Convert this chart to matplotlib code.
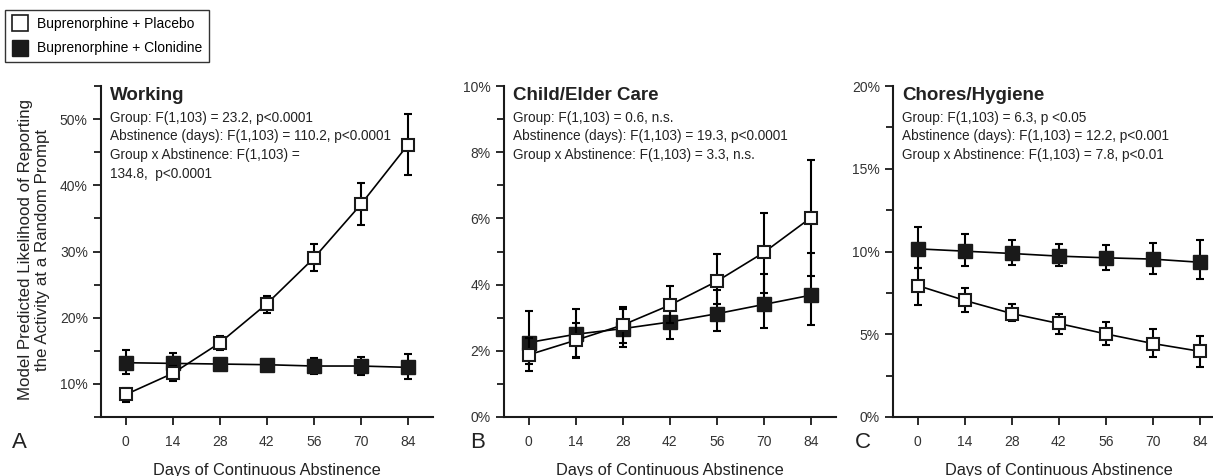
import matplotlib
matplotlib.use("Agg")
import matplotlib.pyplot as plt
from matplotlib.lines import Line2D
from matplotlib.ticker import MultipleLocator, FuncFormatter

plt.rcParams['font.family'] = ['Liberation Sans', 'DejaVu Sans']

days = [0, 14, 28, 42, 56, 70, 84]

# Working (percent)
work_plac = [8.4, 11.6, 16.2, 22.1, 29.0, 37.1, 46.1]
work_plac_lo = [7.2, 10.5, 15.1, 20.7, 27.0, 34.0, 41.6]
work_plac_hi = [9.4, 12.7, 17.2, 23.3, 31.1, 40.3, 50.8]
work_clon = [13.2, 13.1, 13.0, 12.9, 12.7, 12.7, 12.5]
work_clon_lo = [11.5, 11.6, 12.3, 12.3, 11.5, 11.4, 10.8]
work_clon_hi = [15.1, 14.6, 13.6, 13.5, 13.9, 14.1, 14.5]

# Child/Elder Care (percent)
care_plac = [1.88, 2.32, 2.78, 3.38, 4.10, 4.97, 6.02]
care_plac_lo = [1.38, 1.78, 2.25, 2.85, 3.40, 3.75, 4.25]
care_plac_hi = [2.40, 2.85, 3.33, 3.97, 4.91, 6.17, 7.76]
care_clon = [2.25, 2.50, 2.67, 2.87, 3.12, 3.40, 3.68]
care_clon_lo = [1.60, 1.82, 2.12, 2.37, 2.59, 2.69, 2.77]
care_clon_hi = [3.20, 3.25, 3.25, 3.40, 3.85, 4.31, 4.94]

# Chores/Hygiene (percent)
chore_plac = [7.94, 7.04, 6.25, 5.65, 5.02, 4.44, 3.97]
chore_plac_lo = [6.79, 6.35, 5.79, 5.04, 4.33, 3.63, 3.02]
chore_plac_hi = [9.01, 7.82, 6.83, 6.21, 5.73, 5.32, 4.90]
chore_clon = [10.16, 10.02, 9.88, 9.72, 9.62, 9.54, 9.35]
chore_clon_lo = [9.01, 9.13, 9.19, 9.13, 8.91, 8.65, 8.31]
chore_clon_hi = [11.49, 11.07, 10.67, 10.46, 10.38, 10.50, 10.67]

titles = ["Working", "Child/Elder Care", "Chores/Hygiene"]
stats = [
    "Group: F(1,103) = 23.2, p<0.0001\nAbstinence (days): F(1,103) = 110.2, p<0.0001\nGroup x Abstinence: F(1,103) =\n134.8,  p<0.0001",
    "Group: F(1,103) = 0.6, n.s.\nAbstinence (days): F(1,103) = 19.3, p<0.0001\nGroup x Abstinence: F(1,103) = 3.3, n.s.",
    "Group: F(1,103) = 6.3, p <0.05\nAbstinence (days): F(1,103) = 12.2, p<0.001\nGroup x Abstinence: F(1,103) = 7.8, p<0.01",
]
letters = ["A", "B", "C"]

panels = [
    (work_plac, work_plac_lo, work_plac_hi, work_clon, work_clon_lo, work_clon_hi),
    (care_plac, care_plac_lo, care_plac_hi, care_clon, care_clon_lo, care_clon_hi),
    (chore_plac, chore_plac_lo, chore_plac_hi, chore_clon, chore_clon_lo, chore_clon_hi),
]
ylims = [(5, 55), (0, 10), (0, 20)]
majors = [10, 2, 5]
minors = [5, 1, 2.5]

W, H = 1213, 476
fig = plt.figure(figsize=(W / 100, H / 100), dpi=100)

lefts = [101, 504, 893]
ax_w = 332
ax_top, ax_bot = 86, 417
letter_x = [12, 470, 855]

for i in range(3):
    ax = fig.add_axes([lefts[i] / W, 1 - ax_bot / H, ax_w / W, (ax_bot - ax_top) / H])
    p, plo, phi, c, clo, chi = panels[i]

    # clonidine first, placebo drawn on top
    ax.errorbar(days, c, yerr=[[a - b for a, b in zip(c, clo)], [b - a for a, b in zip(c, chi)]],
                color='black', lw=1.2, elinewidth=1.5, capsize=3, capthick=1.5,
                marker='s', markersize=9.5, markerfacecolor='#1a1a1a', markeredgecolor='#1a1a1a', zorder=3)
    ax.errorbar(days, p, yerr=[[a - b for a, b in zip(p, plo)], [b - a for a, b in zip(p, phi)]],
                color='black', lw=1.2, elinewidth=1.5, capsize=3, capthick=1.5,
                marker='s', markersize=9, markerfacecolor='white', markeredgecolor='#1a1a1a',
                markeredgewidth=1.5, zorder=4)

    ax.set_xlim(-7.4, 91.5)
    ax.set_ylim(*ylims[i])
    ax.set_xticks(days)
    ax.yaxis.set_major_locator(MultipleLocator(majors[i]))
    ax.yaxis.set_minor_locator(MultipleLocator(minors[i]))
    ax.yaxis.set_major_formatter(FuncFormatter(lambda v, pos: "%d%%" % v))
    if i == 0:
        ax.set_yticks([10, 20, 30, 40, 50])

    for s in ['top', 'right']:
        ax.spines[s].set_visible(False)
    for s in ['left', 'bottom']:
        ax.spines[s].set_linewidth(1.5)
        ax.spines[s].set_color('#1a1a1a')
    ax.tick_params(axis='both', which='major', direction='out', length=6, width=1.3,
                   labelsize=10, colors='#1a1a1a', labelcolor='#333333')
    ax.tick_params(axis='y', which='minor', direction='out', length=5, width=1.3, colors='#1a1a1a')
    ax.tick_params(axis='x', pad=7)

    ax.set_xlabel("Days of Continuous Abstinence", fontsize=11.8, labelpad=10, color='#222222')

    ax.text(0.027, 0.997, titles[i], transform=ax.transAxes, fontsize=13.5, fontweight='bold',
            va='top', ha='left', color='#222222')
    ax.text(0.027, 0.925, stats[i], transform=ax.transAxes, fontsize=9.8, va='top', ha='left',
            linespacing=1.42, color='#222222')

    fig.text(letter_x[i] / W, 1 - 443 / H, letters[i], fontsize=16, va='center', ha='left', color='#222222')

fig.text(34 / W, 1 - 250 / H, "Model Predicted Likelihood of Reporting\nthe Activity at a Random Prompt",
         rotation=90, fontsize=12.2, ha='center', va='center', multialignment='center',
         linespacing=1.1, color='#222222')

handles = [
    Line2D([], [], ls='none', marker='s', markersize=11, markerfacecolor='white', markeredgecolor='#1a1a1a', markeredgewidth=1.2),
    Line2D([], [], ls='none', marker='s', markersize=11, markerfacecolor='#1a1a1a', markeredgecolor='#1a1a1a'),
]
leg = fig.legend(handles, ["Buprenorphine + Placebo", "Buprenorphine + Clonidine"],
                 loc='upper left', bbox_to_anchor=(5 / W, 1 - 10 / H), fontsize=10,
                 frameon=True, fancybox=False, edgecolor='black', handletextpad=0.6,
                 borderpad=0.5, labelspacing=0.75, handlelength=1.2, borderaxespad=0)
leg.get_frame().set_linewidth(1.0)

fig.savefig("out.png", dpi=100)
